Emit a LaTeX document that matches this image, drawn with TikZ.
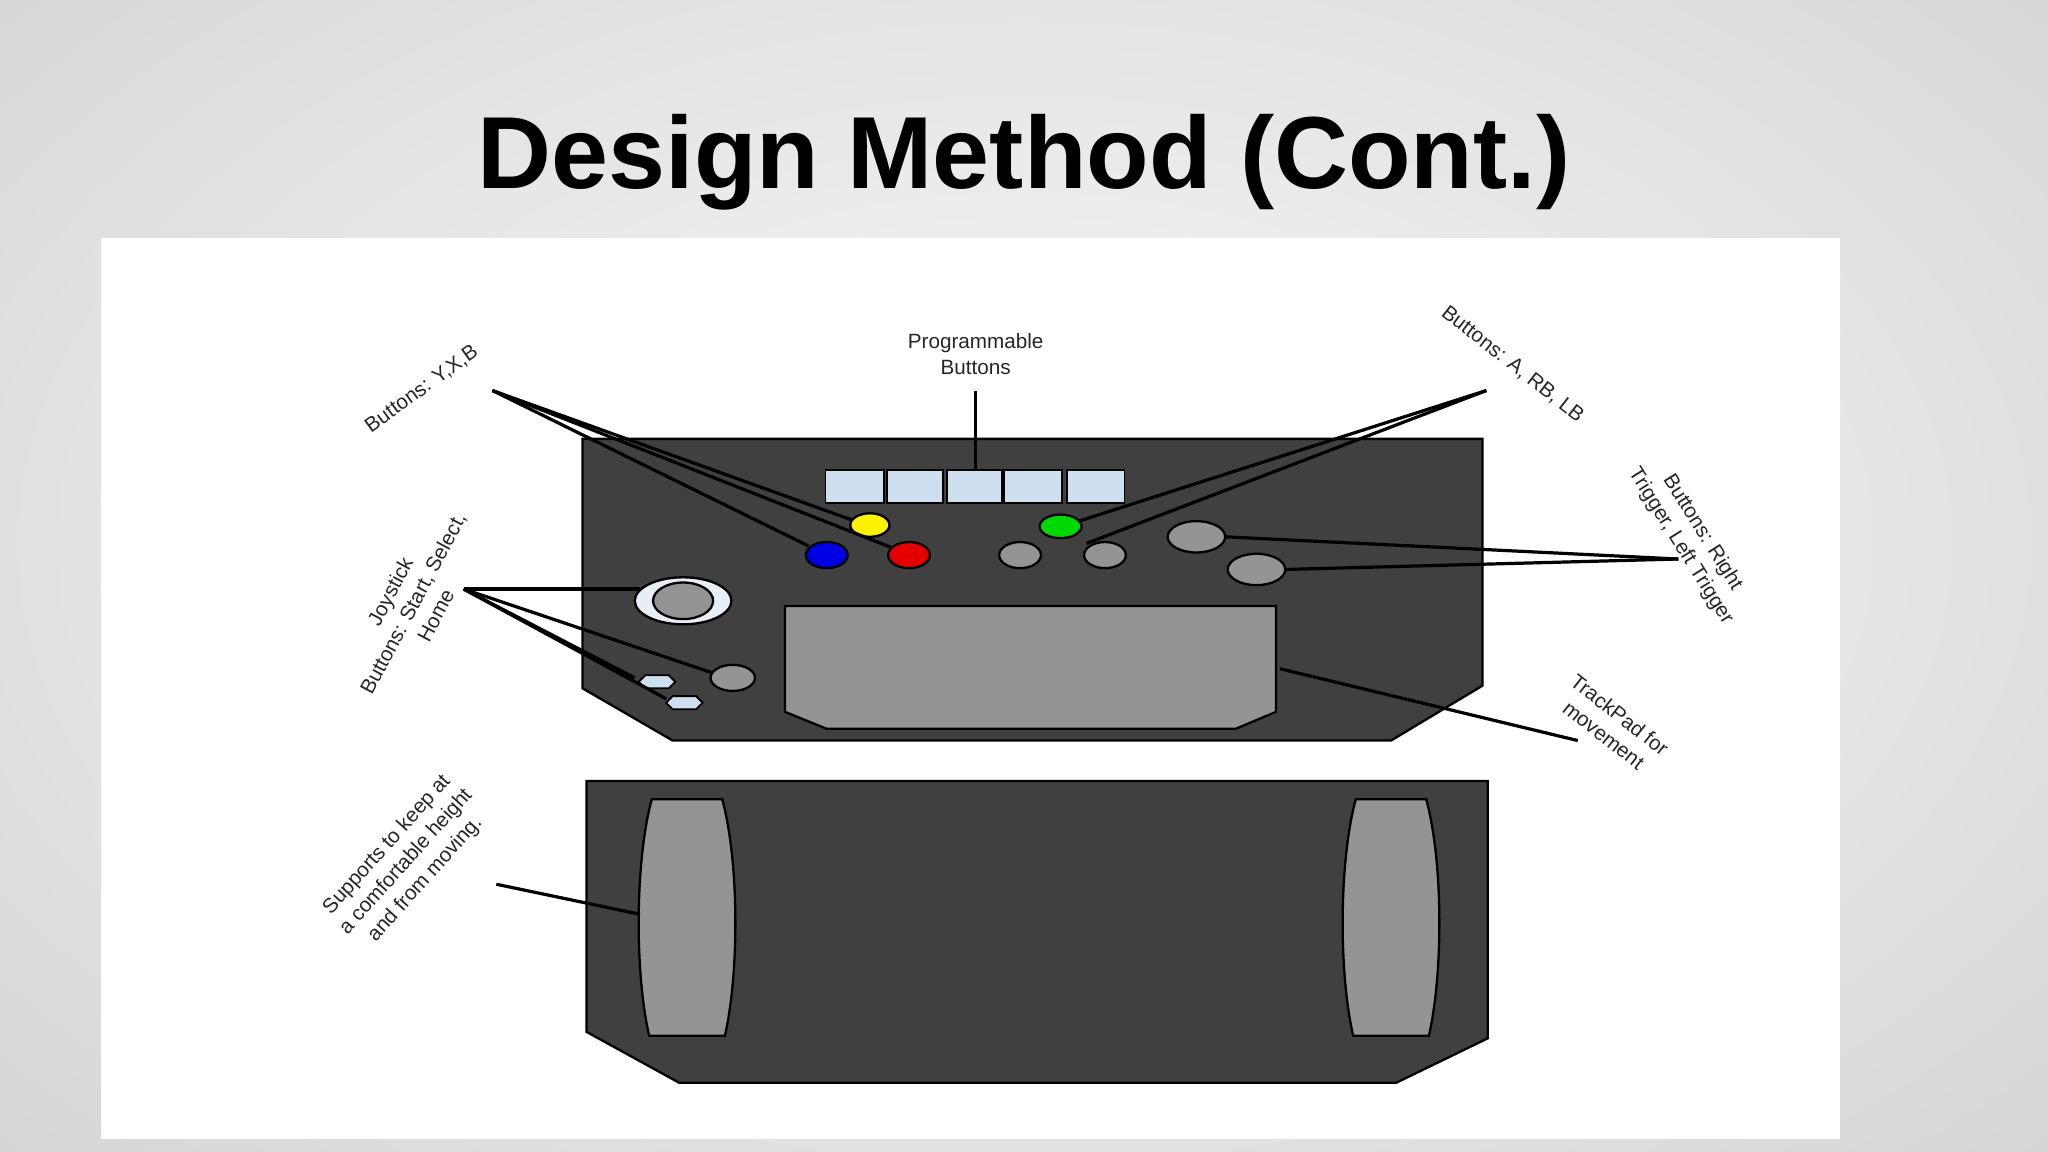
\documentclass[tikz,border=0pt]{standalone}
\usepackage{fontspec}
\setmainfont{Liberation Sans}
\definecolor{lb}{RGB}{206,224,240}
\definecolor{pale}{RGB}{232,238,246}
\begin{document}
\begin{tikzpicture}[x=0.01cm,y=-0.01cm,
  body/.style={fill=black!75,draw=black,line width=0.5pt},
  grey/.style={fill=black!42,draw=black,line width=0.5pt},
  lblue/.style={fill=lb,draw=black,line width=0.4pt},
  lead/.style={draw=black,line width=0.7pt},
  lbl/.style={font=\fontsize{4.5}{5.6}\selectfont,align=center,text=black!85}]
\useasboundingbox (0,0) rectangle (1568,882);
\shade[inner color=white!98!black, outer color=black!16] (-300,-250) rectangle (1868,1082);
\fill[white] (77,182) rectangle (1409,872);
\node[font=\fontsize{22.3}{24}\selectfont\bfseries] (title) at (784,124) {Design Method (Cont.)};
% upper body
\path[body] (446,336) -- (1135,336) -- (1135,525) -- (1065,567) -- (515,567) -- (446,527) -- cycle;
\foreach \a/\b [count=\i] in {632/677,679/722,725/767,769/813,817/861}
  \path[lblue] (\a,360) rectangle (\b,385) coordinate (pb\i);
\coordinate (pbtop) at (747,360);
\node[lbl] (plab) at (747,271) {Programmable\\Buttons};
\draw[lead] (plab.south) -- (pbtop);
% buttons
\path[draw=black,fill=yellow,line width=0.5pt] (666,402) ellipse (15 and 9);
\path[draw=black,fill=blue!90!black,line width=0.5pt] (633,425) ellipse (16 and 10);
\path[draw=black,fill=red!90!black,line width=0.5pt] (696,425) ellipse (16 and 10);
\path[draw=black,fill=green!85!black,line width=0.5pt] (812,403) ellipse (16 and 9);
\path[grey] (781,425) ellipse (16 and 10);
\path[grey] (846,425) ellipse (16 and 10);
\path[grey] (916,411) ellipse (22 and 12);
\path[grey] (962,436) ellipse (22 and 12);
\path[fill=pale,draw=black,line width=0.5pt] (523,460) ellipse (37 and 18);
\path[grey] (523,460) ellipse (23 and 14);
\path[grey] (561,519) ellipse (17 and 10);
\path[lblue] (489,522) -- (494,517) -- (512,517) -- (517,522) -- (512,527) -- (494,527) -- cycle;
\path[lblue] (510,538) -- (515,533) -- (533,533) -- (538,538) -- (533,543) -- (515,543) -- cycle;
% trackpad
\path[grey] (601,464) -- (977,464) -- (977,545) -- (946,558) -- (633,558) -- (601,545) -- cycle;
% lower body
\path[body] (449,598) -- (1139,598) -- (1139,795) -- (1069,829) -- (520,829) -- (449,790) -- cycle;
\path[grey] (499,612) -- (553,612) .. controls (566,660) and (566,745) .. (555,793) -- (497,793) .. controls (486,745) and (486,660) .. cycle;
\path[grey] (1038,612) -- (1092,612) .. controls (1105,660) and (1105,745) .. (1094,793) -- (1036,793) .. controls (1025,745) and (1025,660) .. cycle;
% leaders
\coordinate (yxb) at (377,299);
\draw[lead] (yxb) -- (619,418);
\draw[lead] (yxb) -- (682,419);
\draw[lead] (yxb) -- (652,398);
\coordinate (joy) at (355,451);
\draw[lead] (joy) -- (490,451);
\draw[lead] (joy) -- (545,515);
\draw[lead] (joy) -- (486,519);
\draw[lead] (joy) -- (510,535);
\coordinate (arl) at (1138,299);
\draw[lead] (arl) -- (826,399);
\draw[lead] (arl) -- (832,416);
\coordinate (trg) at (1285,428);
\draw[lead] (trg) -- (938,411);
\draw[lead] (trg) -- (984,436);
\coordinate (tp) at (1208,567);
\draw[lead] (tp) -- (980,512);
\coordinate (sup) at (380,677);
\draw[lead] (sup) -- (490,700);
% labels
\node[lbl,rotate=36] (l1) at (323,298) {Buttons: Y,X,B};
\node[lbl,rotate=62] (l2) at (316,462) {Joystick\\Buttons: Start, Select,\\Home};
\node[lbl,rotate=48] (l3) at (311,660) {Supports to keep at\\a comfortable height\\and from moving.};
\node[lbl,rotate=-38] (l4) at (1158,279) {Buttons: A, RB, LB};
\node[lbl,rotate=-58] (l5) at (1295,413) {Buttons: Right\\Trigger, Left Trigger};
\node[lbl,rotate=-38] (l6) at (1234,555) {TrackPad for\\movement};
\end{tikzpicture}
\end{document}
